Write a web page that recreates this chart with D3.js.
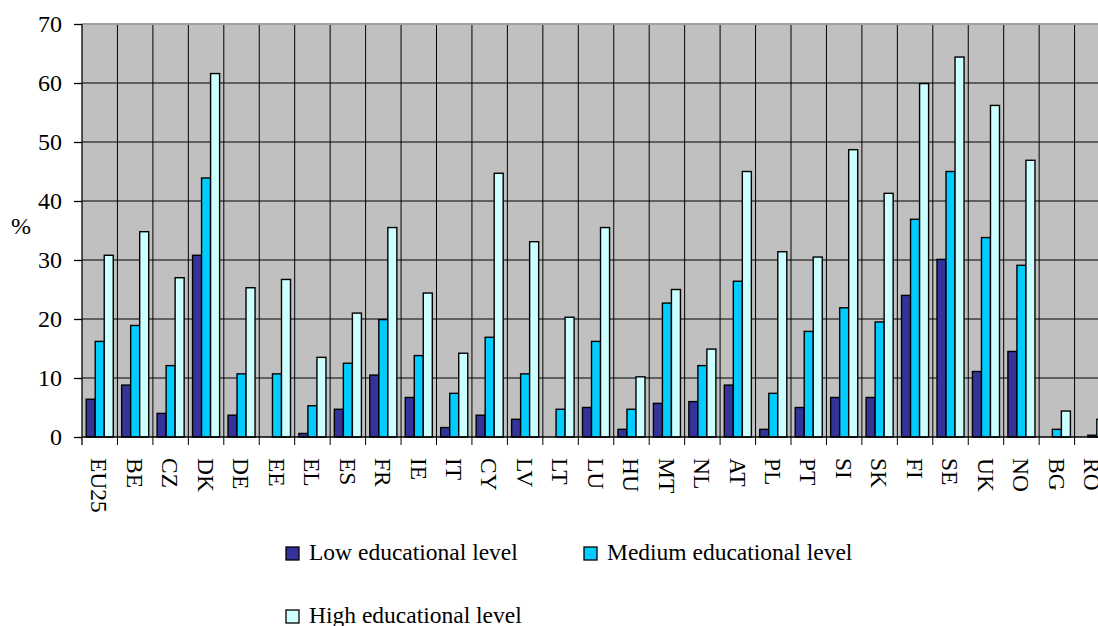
<!DOCTYPE html>
<html>
<head>
<meta charset="utf-8">
<script src="https://cdn.jsdelivr.net/npm/d3@7/dist/d3.min.js"></script>
<style>
  body { margin: 0; background: #fff; }
  svg { display: block; font-family: "Liberation Serif", "Times New Roman", serif; }
</style>
</head>
<body>
<svg id="chart" width="1098" height="626"></svg>
<script>
var countries = ["EU25", "BE", "CZ", "DK", "DE", "EE", "EL", "ES", "FR", "IE", "IT", "CY", "LV", "LT",
    "LU", "HU", "MT", "NL", "AT", "PL", "PT", "SI", "SK", "FI", "SE", "UK", "NO", "BG", "RO"];
var lowLevel = [6.4, 8.8, 4.0, 30.8, 3.7, 0, 0.6, 4.7, 10.5, 6.7, 1.6, 3.7, 3.0, 0,
    5.0, 1.3, 5.7, 6.0, 8.8, 1.3, 5.0, 6.7, 6.7, 24.0, 30.1, 11.1, 14.5, 0, 0];
var mediumLevel = [16.2, 18.9, 12.1, 43.9, 10.7, 10.7, 5.3, 12.5, 19.9, 13.8, 7.4, 16.9, 10.7, 4.7,
    16.2, 4.7, 22.7, 12.1, 26.4, 7.4, 17.9, 21.9, 19.5, 36.9, 45.0, 33.8, 29.1, 1.3, 0.3];
var highLevel = [30.8, 34.8, 27.0, 61.6, 25.3, 26.7, 13.5, 21.0, 35.5, 24.4, 14.2, 44.7, 33.1, 20.3,
    35.5, 10.2, 25.0, 14.9, 45.0, 31.4, 30.5, 48.7, 41.3, 59.9, 64.4, 56.2, 46.9, 4.4, 3.0];
var seriesNames = ["Low educational level", "Medium educational level", "High educational level"];
var seriesColors = ["#333399", "#00ccff", "#ccffff"];
var yTicks = [0, 10, 20, 30, 40, 50, 60, 70];

var series = [lowLevel, mediumLevel, highLevel];

var svg = d3.select("#chart");
var plotLeft = 82, plotTop = 24, plotBottom = 437;
var catW = 35.45;
var plotRight = plotLeft + countries.length * catW;   // runs past the window edge, as in the picture

var x = d3.scaleBand().domain(countries).range([plotLeft, plotRight]);
var xSub = d3.scaleBand().domain(d3.range(3)).range([4.2, catW - 4.2]);
var y = d3.scaleLinear().domain([0, 70]).range([plotBottom, plotTop]);

// plot background
svg.append("rect")
    .attr("x", plotLeft).attr("y", plotTop)
    .attr("width", plotRight - plotLeft).attr("height", plotBottom - plotTop)
    .attr("fill", "#c0c0c0");

// horizontal gridlines
svg.selectAll(".hgrid")
    .data(yTicks.filter(d => d > 0 && d < 70)).enter()
    .append("line")
    .attr("class", "hgrid")
    .attr("x1", plotLeft).attr("x2", plotRight)
    .attr("y1", d => y(d)).attr("y2", d => y(d))
    .attr("stroke", "#000").attr("stroke-width", 1);

// vertical gridlines between categories, continuing as tick marks
svg.selectAll(".vgrid")
    .data(countries.slice(1)).enter()
    .append("line")
    .attr("class", "vgrid")
    .attr("x1", d => x(d)).attr("x2", d => x(d))
    .attr("y1", plotTop).attr("y2", plotBottom + 8)
    .attr("stroke", "#000").attr("stroke-width", 1);

// top frame
svg.append("line")
    .attr("x1", plotLeft).attr("x2", plotRight)
    .attr("y1", plotTop).attr("y2", plotTop)
    .attr("stroke", "#a0a0a0").attr("stroke-width", 2);

// bars
var groups = svg.selectAll(".group")
    .data(countries).enter()
    .append("g")
    .attr("class", "group")
    .attr("transform", d => "translate(" + x(d) + ",0)");

groups.selectAll("rect")
    .data((c, i) => series.map((s, k) => ({ k: k, v: s[i] })).filter(d => d.v > 0))
    .enter().append("rect")
    .attr("x", d => xSub(d.k))
    .attr("width", xSub.bandwidth())
    .attr("y", d => y(d.v))
    .attr("height", d => y(0) - y(d.v))
    .attr("fill", d => seriesColors[d.k])
    .attr("stroke", "#000")
    .attr("stroke-width", 1.4);

// y axis
var yAxis = svg.append("g")
    .attr("transform", "translate(" + plotLeft + ",0)")
    .call(d3.axisLeft(y).tickValues(yTicks).tickSize(8).tickPadding(12).tickFormat(d3.format("d")));
yAxis.select(".domain").attr("stroke", "#000").attr("stroke-width", 1.3)
    .attr("d", "M0," + plotTop + "V" + plotBottom);
yAxis.selectAll(".tick line").attr("stroke", "#000").attr("stroke-width", 1.3);
yAxis.selectAll("text")
    .attr("font-family", "Liberation Serif")
    .attr("font-size", 24)
    .attr("fill", "#000");

// x axis line
svg.append("line")
    .attr("x1", plotLeft).attr("x2", plotRight)
    .attr("y1", plotBottom).attr("y2", plotBottom)
    .attr("stroke", "#000").attr("stroke-width", 1.3);
svg.append("line")
    .attr("x1", plotLeft).attr("x2", plotLeft)
    .attr("y1", plotBottom).attr("y2", plotBottom + 8)
    .attr("stroke", "#000").attr("stroke-width", 1.3);

// x labels, rotated
svg.selectAll(".xlab")
    .data(countries).enter()
    .append("text")
    .attr("class", "xlab")
    .attr("transform", d => "translate(" + (x(d) + catW / 2) + ",458) rotate(90)")
    .attr("dy", "0.35em")
    .attr("font-size", 23.5)
    .attr("fill", "#000")
    .text(d => d);

// y axis title
svg.append("text")
    .attr("x", 21).attr("y", 234)
    .attr("text-anchor", "middle")
    .attr("font-size", 24)
    .text("%");

// legend
var legendPos = [[286, 547], [584, 547], [286, 610]];
var legend = svg.selectAll(".legend")
    .data(seriesNames).enter()
    .append("g")
    .attr("class", "legend")
    .attr("transform", (d, i) => "translate(" + legendPos[i][0] + "," + legendPos[i][1] + ")");
legend.append("rect")
    .attr("width", 13).attr("height", 13)
    .attr("fill", (d, i) => seriesColors[i])
    .attr("stroke", "#000").attr("stroke-width", 1.3);
legend.append("text")
    .attr("x", 23).attr("y", 12.5)
    .attr("font-size", 23.5)
    .text(d => d);
</script>
</body>
</html>
